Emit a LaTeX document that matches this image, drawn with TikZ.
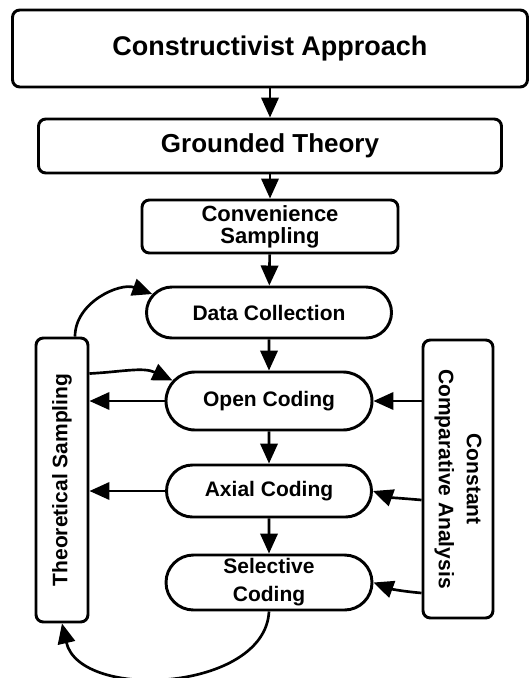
\documentclass[tikz,border=0pt]{standalone}
\usepackage{fontspec}
\setmainfont{Liberation Sans}
\usetikzlibrary{arrows.meta,shapes.misc,calc}
\begin{document}
\begin{tikzpicture}[x=0.75pt,y=-0.75pt,
  box/.style={draw, line width=2.2pt, rounded corners=5.5pt, inner sep=0pt, align=center},
  pill/.style={draw, line width=2.2pt, rounded rectangle, inner sep=0pt, align=center,
    font=\bfseries\fontsize{15.75pt}{21pt}\selectfont},
  lbl/.style={inner sep=0pt, align=center, font=\bfseries\fontsize{15.75pt}{21pt}\selectfont},
  arr/.style={line width=2pt, -{Triangle[length=15pt,width=13pt]}}]
\useasboundingbox (0,0) rectangle (530,678);

\node[box, minimum width=386.25pt, minimum height=57.75pt,
  font=\bfseries\fontsize{20.25pt}{22pt}\selectfont] (ca) at (270,48.5) {\raisebox{3pt}{Constructivist Approach}};
\node[box, minimum width=347.25pt, minimum height=40.5pt,
  font=\bfseries\fontsize{19.5pt}{21pt}\selectfont] (gt) at (270,146) {Grounded Theory};
\node[box, minimum width=192pt, minimum height=39.75pt,
  font=\bfseries\fontsize{16.5pt}{16.5pt}\selectfont] (cs) at (270,226.5) {Convenience\\Sampling};

\node[pill, minimum width=183.75pt, minimum height=38.25pt] (dc) at (269,312.5) {Data Collection};
\node[pill, minimum width=154.5pt, minimum height=43.5pt] (oc) at (269,401) {Open Coding};
\node[pill, minimum width=153.75pt, minimum height=39pt] (ac) at (269,491) {Axial Coding};
\node[pill, minimum width=154.5pt, minimum height=41.25pt] (sc) at (269,582.5) {Selective\\Coding};

\node[box, minimum width=39pt, minimum height=213pt] (ts) at (62,480) {};
\node[lbl, rotate=90] (tstext) at (ts) {Theoretical Sampling};
\node[box, minimum width=52.5pt, minimum height=208.5pt] (cca) at (458,479) {};
\node[lbl, rotate=-90] (ccatext) at (cca) {Constant\\Comparative Analysis};

\draw[arr] (ca) -- (gt);
\draw[arr] (gt) -- (cs);
\draw[arr] (cs) -- (dc);
\draw[arr] (dc) -- (oc);
\draw[arr] (oc) -- (ac);
\draw[arr] (ac) -- (sc);

\draw[arr] ([xshift=9.75pt]ts.north) to[out=90,in=160] (dc.171);
\draw[arr] ($(ts.north east)+(0,37)$) to[out=3,in=155] (oc.168);
\draw[arr] (oc.west) -- (oc.west -| ts.east);
\draw[arr] (ac.west) -- (ac.west -| ts.east);
\draw[arr] (sc.south) .. controls +(-4,80) and +(18,78) .. (ts.south);

\draw[arr] (cca.west |- oc.east) -- (oc.east);
\draw[arr] ($(cca.west)+(0,21)$) to[out=175,in=-20] (ac.east);
\draw[arr] ($(cca.west)+(0,114)$) to[out=175,in=-20] (sc.east);
\end{tikzpicture}
\end{document}
